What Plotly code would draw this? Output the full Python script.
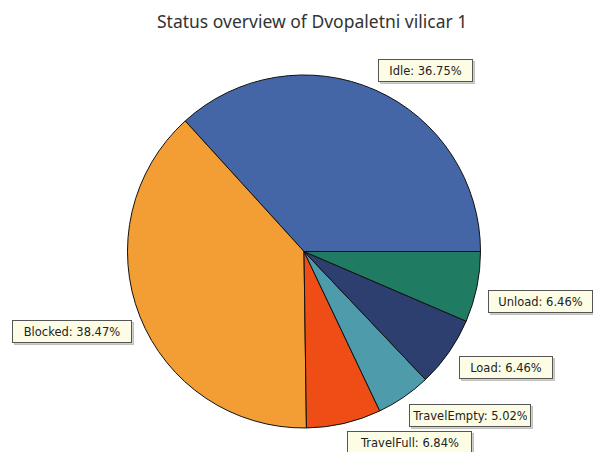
import math
import plotly.graph_objects as go

# Status shares of the forklift (percent)
states = ["Idle", "Blocked", "TravelFull", "TravelEmpty", "Load", "Unload"]
shares = [36.75, 38.47, 6.84, 5.02, 6.46, 6.46]
colors = ["#4566A6", "#F39D35", "#EE4E16", "#4E9BAC", "#2C3F6F", "#1F7B61"]

# Label box layout: offset (px) from the rim point at each slice's mid-angle,
# and the inner width of each box
label_offsets = [(50, -20), (-68, 15), (65, 19), (66, 18), (57, 15), (64, 14)]
label_widths = [87, 112, 117, 114, 86, 97]
LABEL_H = 15
PAD = 3

W, H = 593, 452
pie_left, pie_right, pie_top, pie_bottom = 127, 481, 75, 428
total = sum(shares)

# Plotly's counterclockwise pies place the first slice clockwise from `rotation`;
# shift so the first slice starts at 3 o'clock and runs counterclockwise.
rotation = 90 - 360.0 * shares[0] / total

fig = go.Figure(
    go.Pie(
        labels=states,
        values=shares,
        sort=False,
        direction="counterclockwise",
        rotation=rotation,
        marker=dict(colors=colors, line=dict(color="#111111", width=1)),
        textinfo="none",
        hoverinfo="label+percent",
        showlegend=False,
        domain=dict(x=[pie_left / W, pie_right / W],
                    y=[1 - pie_bottom / H, 1 - pie_top / H]),
    )
)

# Rim geometry in pixels
cx = (pie_left + pie_right) / 2
cy = (pie_top + pie_bottom) / 2
radius = (pie_bottom - pie_top) / 2

annotations = []
start = 0.0
for name, val, (dx, dy), bw in zip(states, shares, label_offsets, label_widths):
    sweep = 360.0 * val / total
    mid = math.radians(start + sweep / 2)
    start += sweep
    px = cx + radius * math.cos(mid) + dx
    py = cy - radius * math.sin(mid) + dy
    # soft drop shadow behind the label box (blank box of the same size)
    annotations.append(dict(
        x=(px + 2) / W, y=1 - (py + 2) / H, xref="paper", yref="paper",
        text=" ", showarrow=False, xanchor="center", yanchor="middle",
        width=bw, height=LABEL_H,
        font=dict(family="DejaVu Sans", size=11.5, color="rgba(0,0,0,0)"),
        bgcolor="rgba(120,120,110,0.35)", bordercolor="rgba(120,120,110,0.35)",
        borderwidth=1, borderpad=PAD,
    ))
    annotations.append(dict(
        x=px / W, y=1 - py / H, xref="paper", yref="paper",
        text=f"{name}: {val:.2f}%", showarrow=False,
        xanchor="center", yanchor="middle", align="center",
        width=bw, height=LABEL_H,
        font=dict(family="DejaVu Sans", size=11.5, color="#222222"),
        bgcolor="#FDFDE6", bordercolor="#555555", borderwidth=1, borderpad=PAD,
    ))

annotations.append(dict(
    x=312 / W, y=1 - 21 / H, xref="paper", yref="paper",
    text="Status overview of Dvopaletni vilicar 1", showarrow=False,
    xanchor="center", yanchor="middle",
    font=dict(family="Noto Sans", size=17.5, color="#333333"),
))

fig.update_layout(
    width=W, height=H,
    margin=dict(l=0, r=0, t=0, b=0),
    paper_bgcolor="white", plot_bgcolor="white",
    annotations=annotations,
)

fig.write_html("out.html")
